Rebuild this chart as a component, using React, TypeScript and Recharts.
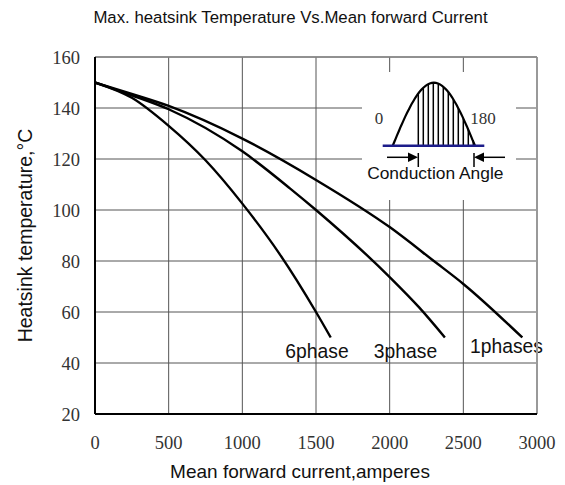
import React from "react";
import { LineChart, Line, XAxis, YAxis, CartesianGrid, Customized, ReferenceLine } from "recharts";

const current1 = [0, 250, 500, 1000, 1500, 2000, 2300, 2500, 2900];
const temp1 = [150, 145.5, 140.8, 128, 111.8, 93.3, 80, 71, 50];
const current3 = [0, 250, 500, 1000, 1325, 1500, 2000, 2200, 2375];
const temp3 = [150, 145, 139.5, 123, 108.4, 100, 73.7, 61.8, 50];
const current6 = [0, 250, 500, 750, 1000, 1250, 1500, 1600];
const temp6 = [150, 144, 133, 119.5, 102.5, 83, 60, 50];

const xTicks = [0, 500, 1000, 1500, 2000, 2500, 3000];
const yTicks = [20, 40, 60, 80, 100, 120, 140, 160];

const zip = (xs: number[], ys: number[]) => xs.map((x, i) => ({ x, y: ys[i] }));
const phase1 = zip(current1, temp1);
const phase3 = zip(current3, temp3);
const phase6 = zip(current6, temp6);

const SANS = "'Liberation Sans', Arial, sans-serif";
const SERIF = "'Liberation Serif', 'Times New Roman', serif";

// inset sketch: half wave with the conducting part hatched
function Inset() {
  const base = 145.7;
  const x0 = 392.7;
  const x1 = 475;
  const h = 63;
  const waveY = (x: number) => base - h * Math.sin((Math.PI * (x - x0)) / (x1 - x0));
  const pts: string[] = [];
  for (let i = 0; i <= 40; i++) {
    const x = x0 + ((x1 - x0) * i) / 40;
    pts.push(`${x.toFixed(1)},${waveY(x).toFixed(1)}`);
  }
  const hatch: number[] = [];
  for (let x = 418.3; x < 474; x += 5) hatch.push(x);
  return (
    <g>
      <rect x={362} y={72} width={154} height={128} fill="#fff" />
      {hatch.map((x) => (
        <line key={x} x1={x} x2={x} y1={base} y2={waveY(x)} stroke="#000" strokeWidth={1.5} />
      ))}
      <polyline points={pts.join(" ")} fill="none" stroke="#000" strokeWidth={2.2} />
      <line x1={382.7} x2={484.3} y1={base} y2={base} stroke="#1c1c8a" strokeWidth={2.5} />
      <text x={379} y={124} fontFamily={SERIF} fontSize={17} fill="#333" textAnchor="middle">0</text>
      <text x={483} y={124} fontFamily={SERIF} fontSize={17} fill="#333" textAnchor="middle">180</text>
      <line x1={387} x2={411} y1={157.3} y2={157.3} stroke="#000" strokeWidth={1.5} />
      <polygon points="408,152.5 418,157.3 408,162" fill="#000" />
      <line x1={418.3} x2={418.3} y1={153} y2={167} stroke="#000" strokeWidth={1.5} />
      <line x1={474} x2={474} y1={153} y2={167} stroke="#000" strokeWidth={1.5} />
      <polygon points="474,157.3 484,152.5 484,162" fill="#000" />
      <line x1={483} x2={505} y1={157.3} y2={157.3} stroke="#000" strokeWidth={1.5} />
      <text x={435.3} y={179.3} fontFamily={SANS} fontSize={17.4} fill="#111" textAnchor="middle">Conduction Angle</text>
    </g>
  );
}

function Labels() {
  return (
    <g fontFamily={SANS} fill="#111">
      <text x={290.5} y={22.5} fontSize={16.8} textAnchor="middle">Max. heatsink Temperature Vs.Mean forward Current</text>
      <text x={300} y={478} fontSize={19} textAnchor="middle">Mean forward current,amperes</text>
      <text transform="translate(32,235.5) rotate(-90)" fontSize={19.5} textAnchor="middle">Heatsink temperature,°C</text>
      <text x={317} y={358} fontSize={19.3} textAnchor="middle">6phase</text>
      <text x={405.5} y={358} fontSize={19.3} textAnchor="middle">3phase</text>
      <text x={506.5} y={353} fontSize={19.3} textAnchor="middle">1phases</text>
    </g>
  );
}

export default function App() {
  return (
    <div style={{ position: "absolute", left: 0, top: 0, background: "#fff" }}>
      <LineChart width={565} height={485} margin={{ top: 57, right: 28, bottom: 31, left: 35 }}>
        <CartesianGrid stroke="#555" strokeWidth={1} horizontalValues={yTicks} verticalValues={xTicks} />
        <XAxis
          type="number"
          dataKey="x"
          domain={[0, 3000]}
          ticks={xTicks}
          height={40}
          tickLine={false}
          axisLine={{ stroke: "#000", strokeWidth: 2 }}
          tick={{ fontFamily: SERIF, fontSize: 18.5, fill: "#333" }}
          tickMargin={16}
          interval={0}
        />
        <YAxis
          type="number"
          domain={[20, 160]}
          ticks={yTicks}
          width={60}
          tickLine={false}
          axisLine={{ stroke: "#000", strokeWidth: 2 }}
          tick={{ fontFamily: SERIF, fontSize: 18.5, fill: "#333" }}
          tickMargin={9}
          interval={0}
        />
        <ReferenceLine x={3000} stroke="#999" strokeWidth={2} />
        <ReferenceLine y={160} stroke="#888" strokeWidth={1.5} />
        <Customized component={Inset} />
        <Line data={phase1} dataKey="y" type="monotone" stroke="#000" strokeWidth={2.4} dot={false} isAnimationActive={false} />
        <Line data={phase3} dataKey="y" type="monotone" stroke="#000" strokeWidth={2.4} dot={false} isAnimationActive={false} />
        <Line data={phase6} dataKey="y" type="monotone" stroke="#000" strokeWidth={2.4} dot={false} isAnimationActive={false} />
        <Customized component={Labels} />
      </LineChart>
    </div>
  );
}
